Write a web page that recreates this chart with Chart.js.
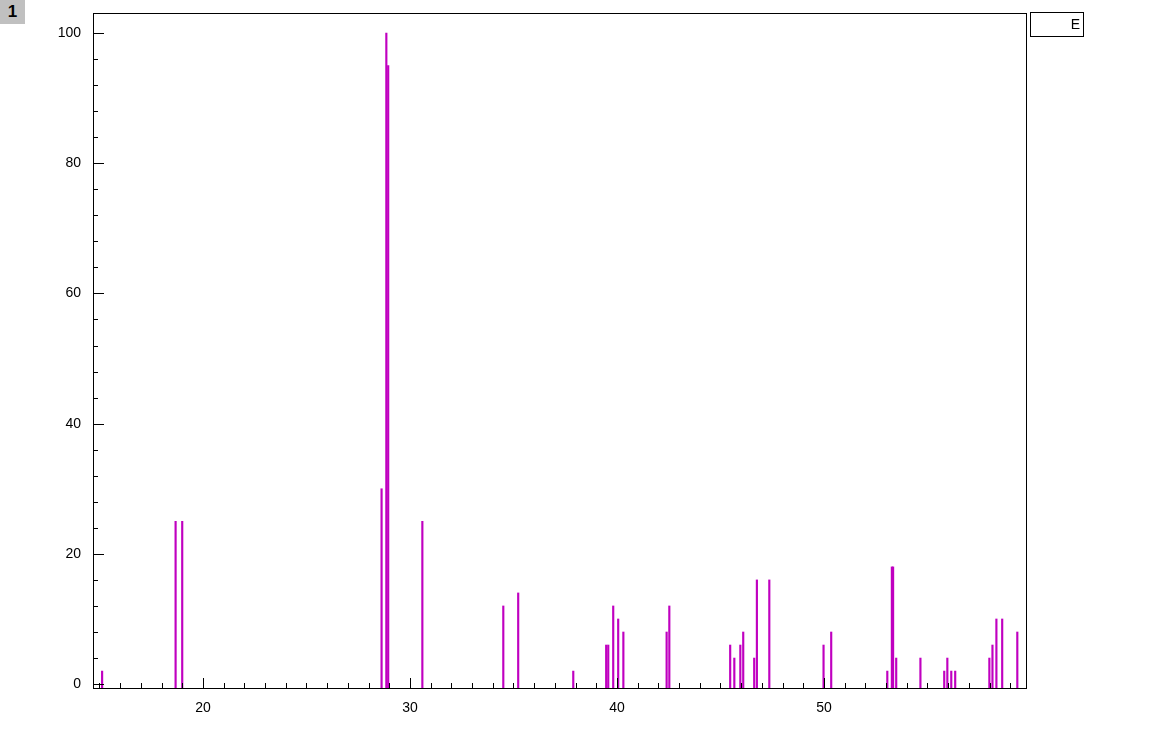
<!DOCTYPE html>
<html>
<head>
<meta charset="utf-8">
<title>Peaks</title>
<script src="https://cdn.jsdelivr.net/npm/chart.js@4"></script>
<style>
  body { margin: 0; background: #fff; }
  #wrap { position: relative; width: 1167px; height: 730px; }
  #badge {
    position: absolute; left: 0; top: 0; width: 25px; height: 24px;
    background: #c0c0c0; color: #000; font: bold 17px "Liberation Sans", Arial, sans-serif;
    line-height: 24px; text-align: center;
  }
  #legend {
    position: absolute; left: 1030px; top: 12px; width: 52px; height: 23px;
    border: 1px solid #000; box-sizing: content-box;
    font: 14px "Liberation Sans", Arial, sans-serif; color: #000;
    line-height: 23px; text-align: right;
  }
  #legend span { padding-right: 3px; }
</style>
</head>
<body>
<div id="wrap">
  <canvas id="chart" width="1167" height="730"></canvas>
  <div id="badge">1</div>
  <div id="legend"><span>E</span></div>
</div>
<script>
// Peak positions (x) and relative intensities (y)
const peakPositions = [15.13, 18.68, 19.0, 28.63, 28.86, 28.95, 30.6, 34.51, 35.23, 37.89,
    39.48, 39.58, 39.82, 40.06, 40.31, 42.40, 42.53, 45.47, 45.67, 45.96,
    46.10, 46.63, 46.76, 47.36, 49.98, 50.35, 53.06, 53.28, 53.34, 53.49,
    54.66, 55.81, 55.96, 56.15, 56.34, 57.99, 58.14, 58.33, 58.61, 59.34];
const peakIntensities = [2, 25, 25, 30, 100, 95, 25, 12, 14, 2,
    6, 6, 12, 10, 8, 8, 12, 6, 4, 6,
    8, 4, 16, 16, 6, 8, 2, 18, 18, 4,
    4, 2, 4, 2, 2, 4, 6, 10, 10, 8];

// Axis ranges and tick steps
const xMin = 14.69, xMax = 59.76;
const yMin = -0.6, yMax = 103.07;
const xMajorStep = 10, xMinorStep = 1;
const yMajorStep = 20, yMinorStep = 4;

// Draws the frame and inward tick marks from the scales
const frameTicks = {
    id: 'frameTicks',
    afterDatasetsDraw(chart) {
        const ctx = chart.ctx;
        const area = chart.chartArea;
        const xs = chart.scales.x;
        const ys = chart.scales.y;
        ctx.save();
        ctx.strokeStyle = '#000';
        ctx.lineWidth = 1;
        ctx.beginPath();
        // x ticks
        for (let v = Math.ceil(xMin); v <= xMax; v += xMinorStep) {
            const px = Math.round(xs.getPixelForValue(v)) + 0.5;
            const len = (v % xMajorStep === 0) ? 10 : 5;
            ctx.moveTo(px, area.bottom);
            ctx.lineTo(px, area.bottom - len);
        }
        // y ticks
        for (let v = 0; v <= yMax; v += yMinorStep) {
            const py = Math.round(ys.getPixelForValue(v)) + 0.5;
            const len = (v % yMajorStep === 0) ? 11 : 5;
            ctx.moveTo(area.left, py);
            ctx.lineTo(area.left + len, py);
        }
        ctx.stroke();
        ctx.strokeRect(area.left + 0.5, area.top + 0.5, area.right - area.left, area.bottom - area.top);
        ctx.restore();
    }
};

const ctx = document.getElementById('chart').getContext('2d');
new Chart(ctx, {
    type: 'bar',
    data: {
        datasets: [{
            label: 'E',
            data: peakPositions.map((x, i) => ({ x: x, y: peakIntensities[i] })),
            backgroundColor: '#c000c0',
            borderWidth: 0,
            barThickness: 1.5,
            base: yMin
        }]
    },
    options: {
        responsive: false,
        animation: false,
        layout: {
            padding: { top: 13, right: 141, left: 0, bottom: 0 }
        },
        scales: {
            x: {
                type: 'linear',
                min: xMin,
                max: xMax,
                offset: false,
                grid: { display: false, drawTicks: false },
                border: { display: false },
                ticks: {
                    stepSize: xMajorStep,
                    includeBounds: false,
                    padding: 12,
                    color: '#000',
                    maxRotation: 0,
                    font: { family: '"Liberation Sans", Arial, sans-serif', size: 14 }
                },
                afterFit(scale) {
                    scale.height = 42;
                    scale.paddingLeft = 0;
                    scale.paddingRight = 0;
                }
            },
            y: {
                min: yMin,
                max: yMax,
                grid: { display: false, drawTicks: false },
                border: { display: false },
                ticks: {
                    stepSize: yMajorStep,
                    includeBounds: false,
                    padding: 12,
                    color: '#000',
                    font: { family: '"Liberation Sans", Arial, sans-serif', size: 14 }
                },
                afterFit(scale) {
                    scale.width = 93;
                    scale.paddingTop = 0;
                    scale.paddingBottom = 0;
                }
            }
        },
        plugins: {
            legend: { display: false },
            tooltip: { enabled: false }
        }
    },
    plugins: [frameTicks]
});
</script>
</body>
</html>
